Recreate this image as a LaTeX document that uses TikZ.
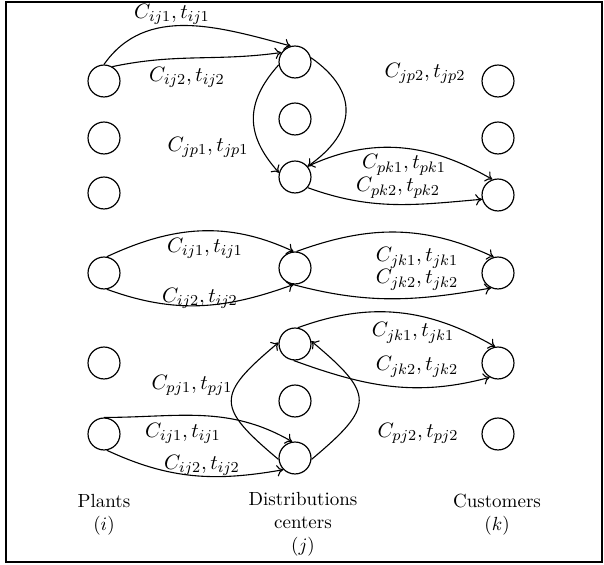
\documentclass[tikz,border=0pt]{standalone}
\usetikzlibrary{arrows, arrows.meta}

\tikzset{
  site/.style={circle, draw, line width=0.62pt, minimum size=16.8pt, inner sep=0pt},
  flow/.style={-{To[length=3.4pt, width=6pt]}, line width=0.58pt},
  tag/.style={inner sep=1pt, font=\fontsize{10.95}{13.6}\selectfont},
  title/.style={inner sep=1pt, align=center}
}

\begin{document}
\begin{tikzpicture}[x=0.526pt, y=0.526pt]
\useasboundingbox (0,0) rectangle (604,565);
\draw [line width=0.8pt] (6,3) rectangle (602,563);

% top group
\node [site] (p1) at (104,484) {};
\node [site] (p2) at (104,427) {};
\node [site] (p3) at (104,372) {};
\node [site] (d1) at (295,503) {};
\node [site] (d2) at (295,446) {};
\node [site] (d3) at (295,388) {};
\node [site] (c1) at (498,484) {};
\node [site] (c2) at (498,427) {};
\node [site] (c3) at (498,370) {};

\draw [flow] (p1.north) to [out=55, in=165] (d1.105);
\draw [flow] (p1.60) to [out=12, in=188] (d1.145);
\draw [flow] (d1.190) to [out=228, in=132, looseness=1.2] (d3.165);
\draw [flow] (d1.15) to [out=-35, in=35, looseness=1.4] (d3.40);
\draw [flow] (d3.40) to [out=25, in=150] (c3.110);
\draw [flow] (d3.-40) to [out=-20, in=185] (c3.195);

\node [tag] at (172,551) {$C_{ij1}, t_{ij1}$};
\node [tag] at (187,488) {$C_{ij2}, t_{ij2}$};
\node [tag] at (208,418) {$C_{jp1}, t_{jp1}$};
\node [tag] at (425,492) {$C_{jp2}, t_{jp2}$};
\node [tag] at (404,400) {$C_{pk1}, t_{pk1}$};
\node [tag] at (398,377) {$C_{pk2}, t_{pk2}$};

% middle group
\node [site] (p4) at (104,292) {};
\node [site] (d4) at (295,297) {};
\node [site] (c4) at (498,292) {};

\draw [flow] (p4.80) to [out=25, in=155] (d4.95);
\draw [flow] (p4.-80) to [out=-20, in=200] (d4.-95);
\draw [flow] (d4.85) to [out=20, in=155] (c4.105);
\draw [flow] (d4.-100) to [out=-15, in=190] (c4.-115);

\node [tag] at (205,317) {$C_{ij1}, t_{ij1}$};
\node [tag] at (200,267) {$C_{ij2}, t_{ij2}$};
\node [tag] at (417,307) {$C_{jk1}, t_{jk1}$};
\node [tag] at (417,285) {$C_{jk2}, t_{jk2}$};

% bottom group
\node [site] (p5) at (104,202) {};
\node [site] (p6) at (104,131) {};
\node [site] (d5) at (295,221) {};
\node [site] (d6) at (295,164) {};
\node [site] (d7) at (295,107) {};
\node [site] (c5) at (498,202) {};
\node [site] (c6) at (498,131) {};

\draw [flow] (d5.80) to [out=20, in=150] (c5.100);
\draw [flow] (d5.-95) to [out=-20, in=195] (c5.-120);
\draw [flow] (p6.north) to [out=0, in=150] (d7.100);
\draw [flow] (p6.-80) to [out=-25, in=190] (d7.-135);
\draw [flow] (d7.185) to [out=140, in=-140, looseness=1.8] (d5.175);
\draw [flow] (d7.-5) to [out=40, in=-40, looseness=1.8] (d5.10);

\node [tag] at (413,232) {$C_{jk1}, t_{jk1}$};
\node [tag] at (417,198) {$C_{jk2}, t_{jk2}$};
\node [tag] at (192,180) {$C_{pj1}, t_{pj1}$};
\node [tag] at (418,132) {$C_{pj2}, t_{pj2}$};
\node [tag] at (183,132) {$C_{ij1}, t_{ij1}$};
\node [tag] at (202,100) {$C_{ij2}, t_{ij2}$};

% column titles
\node [title] (plants) at (104,50) {Plants\\$(i)$};
\node [title] (centers) at (303,41) {Distributions\\centers\\$(j)$};
\node [title] (customers) at (497,50) {Customers\\$(k)$};
\end{tikzpicture}
\end{document}
